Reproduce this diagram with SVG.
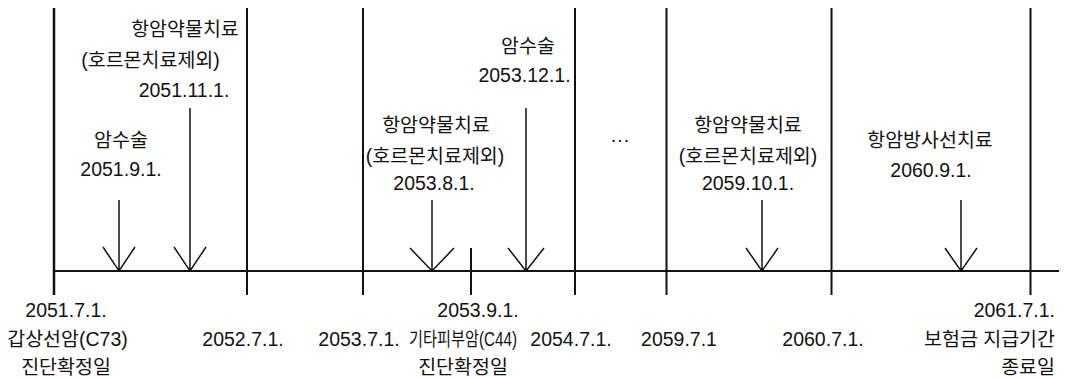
<svg xmlns="http://www.w3.org/2000/svg" width="1068" height="378" viewBox="0 0 1068 378">
<style>
text{font-family:"Liberation Sans","Noto Sans CJK KR",sans-serif;font-size:19.5px;fill:#111;text-anchor:middle}
.ln{stroke:#111;stroke-width:2;fill:none}
.ar{stroke:#111;stroke-width:1.5;fill:none}
</style>
<rect width="1068" height="378" fill="#fff"/>
<g id="timeline" class="ln">
<line x1="54" y1="8" x2="54" y2="295" stroke-width="2.5"/>
<line x1="247" y1="8" x2="247" y2="295"/>
<line x1="363" y1="8" x2="363" y2="295"/>
<line x1="575" y1="8" x2="575" y2="295"/>
<line x1="666.5" y1="8" x2="666.5" y2="295"/>
<line x1="831.5" y1="8" x2="831.5" y2="295"/>
<line x1="1030.5" y1="8" x2="1030.5" y2="295"/>
<line x1="54" y1="271" x2="1059" y2="271"/>
<line x1="471" y1="248" x2="471" y2="295"/>
</g>
<g id="connectors" class="ar">
<path d="M119,200V271M103,247L119,271L135,247"/>
<path d="M190,108V271M174,247L190,271L206,247"/>
<path d="M432,200V271M410,248L432,271L454,248"/>
<path d="M526,108V271M508,248L526,271L544,248"/>
<path d="M762,200V271M746,248L762,271L778,248"/>
<path d="M961,200V271M945,248L961,271L977,248"/>
</g>
<g id="start">
<text x="66" y="317">2051.7.1.</text>
<text x="67.5" y="346">갑상선암(C73)</text>
<text x="66" y="374">진단확정일</text>
</g>
<g id="surgery-2051">
<text x="121" y="147">암수술</text>
<text x="121" y="176">2051.9.1.</text>
</g>
<g id="chemo-2051">
<text x="185" y="36">항암약물치료</text>
<text x="150.5" y="67">(호르몬치료제외)</text>
<text x="184" y="97">2051.11.1.</text>
</g>
<g id="y2052"><text x="243" y="346">2052.7.1.</text></g>
<g id="y2053"><text x="359" y="346">2053.7.1.</text></g>
<g id="chemo-2053">
<text x="436" y="132">항암약물치료</text>
<text x="435" y="163">(호르몬치료제외)</text>
<text x="434" y="190">2053.8.1.</text>
</g>
<g id="skin-2053">
<text x="478" y="317">2053.9.1.</text>
<text transform="translate(463,346) scale(0.78,1)" x="0" y="0">기타피부암(C44)</text>
<text x="463" y="374">진단확정일</text>
</g>
<g id="surgery-2053">
<text x="528" y="53">암수술</text>
<text x="524.5" y="82">2053.12.1.</text>
</g>
<g id="y2054"><text x="571" y="346">2054.7.1.</text></g>
<g id="ellipsis"><text x="620" y="146">···</text></g>
<g id="y2059"><text x="679" y="346">2059.7.1</text></g>
<g id="chemo-2059">
<text x="748" y="132">항암약물치료</text>
<text x="748" y="163">(호르몬치료제외)</text>
<text x="748" y="190">2059.10.1.</text>
</g>
<g id="y2060"><text x="823" y="346">2060.7.1.</text></g>
<g id="radiation-2060">
<text x="930" y="147">항암방사선치료</text>
<text x="931" y="177">2060.9.1.</text>
</g>
<g id="end">
<text x="1055" y="317" style="text-anchor:end">2061.7.1.</text>
<text x="1055" y="346" style="text-anchor:end">보험금 지급기간</text>
<text x="1055" y="374" style="text-anchor:end">종료일</text>
</g>
</svg>
